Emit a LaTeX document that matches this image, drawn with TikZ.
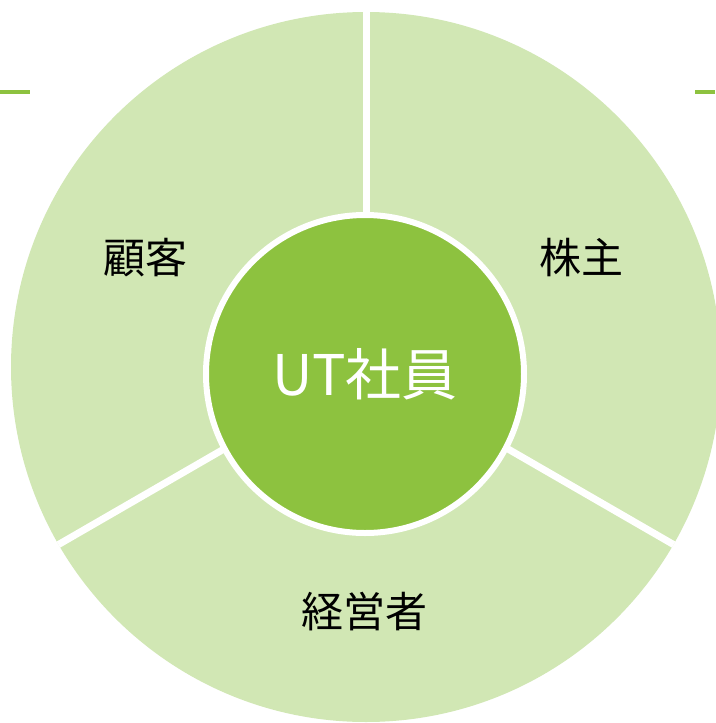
\documentclass[tikz,border=0pt]{standalone}
\usepackage{fontspec}
\newfontfamily\jpfont{Noto Sans CJK JP}
\usetikzlibrary{positioning}
\definecolor{utgreen}{RGB}{141,194,63}
\definecolor{utlight}{RGB}{209,231,180}

\begin{document}
\begin{tikzpicture}[
    x=1pt, y=-1pt,
    ring/.style={
        circle,
        fill=utlight,
        minimum size=710pt,
        inner sep=0pt
    },
    core/.style={
        circle,
        fill=utgreen,
        draw=white,
        line width=6pt,
        minimum size=318pt,
        inner sep=0pt,
        font=\jpfont\fontsize{56}{60}\selectfont,
        text=white
    },
    party/.style={
        font=\jpfont\fontsize{42}{46}\selectfont,
        text=black
    },
    sep/.style={
        draw=white,
        line width=7pt
    },
    tick/.style={
        draw=utgreen,
        line width=4pt
    }
]
\useasboundingbox (0,0) rectangle (715,723);

% Outer ring
\node[ring] (ring) at (366,367) {};

% Separators
\draw[sep] (ring.90) -- (ring.center);
\draw[sep] (ring.210) -- (ring.center);
\draw[sep] (ring.330) -- (ring.center);

% Centre
\node[core] (core) at (365,374) {UT社員};

% Parties
\node[party] (customer) at (145,258) {顧客};
\node[party] (holder) at (581,258) {株主};
\node[party] (manager) at (364,612) {経営者};

% Edge marks
\coordinate (tickL) at (0,92);
\coordinate (tickR) at (715,92);
\draw[tick] (tickL) -- ++(30,0);
\draw[tick] (tickR) -- ++(-20,0);

\end{tikzpicture}
\end{document}
